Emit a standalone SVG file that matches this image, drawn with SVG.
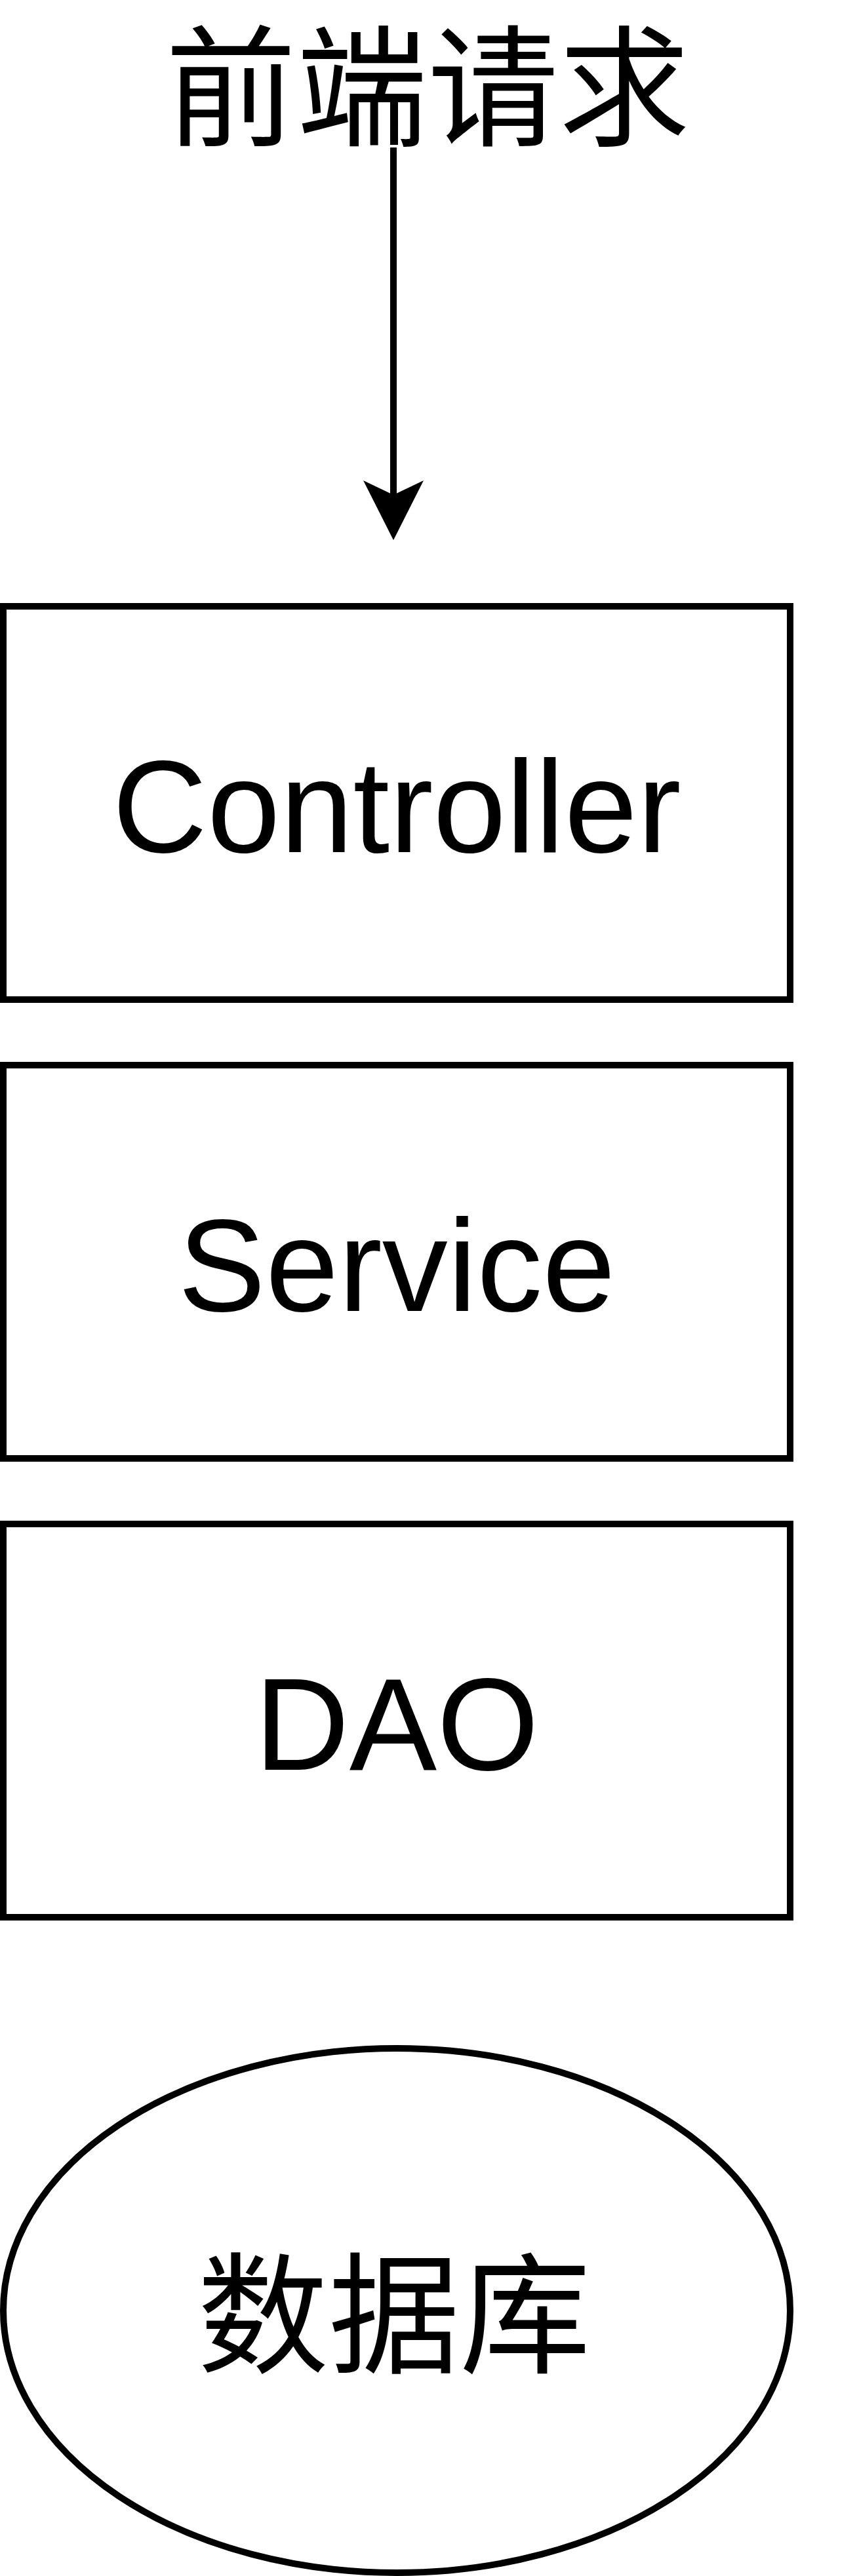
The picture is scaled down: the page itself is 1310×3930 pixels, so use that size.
<svg xmlns="http://www.w3.org/2000/svg" width="1310" height="3930" viewBox="0 0 1310 3930">
<style>
.box{fill:#fff;stroke:#000;stroke-width:10}
.lbl{font-family:"Liberation Sans",Arial,sans-serif;font-size:200px;fill:#000;text-anchor:middle}
.cjk{font-family:"Liberation Sans","Noto Sans CJK SC",sans-serif;font-size:200px;fill:#000;text-anchor:middle}
.conn{stroke:#000;stroke-width:10;fill:none}
</style>
<rect width="1310" height="3930" fill="#fff"/>
<g id="connectors">
<line class="conn" x1="600" y1="225" x2="600" y2="760"/>
<polygon points="600,824 646,733 600,755 554,733" fill="#000"/>
</g>
<g id="request"><text class="cjk" x="652" y="207">前端请求</text></g>
<g id="controller"><rect class="box" x="5" y="925" width="1200" height="600"/><text class="lbl" x="605" y="1300">Controller</text></g>
<g id="service"><rect class="box" x="5" y="1625" width="1200" height="600"/><text class="lbl" x="605" y="2000">Service</text></g>
<g id="dao"><rect class="box" x="5" y="2325" width="1200" height="600"/><text class="lbl" x="605" y="2700">DAO</text></g>
<g id="database"><ellipse class="box" cx="605" cy="3525" rx="600" ry="400"/><text class="cjk" x="601" y="3605">数据库</text></g>
</svg>
